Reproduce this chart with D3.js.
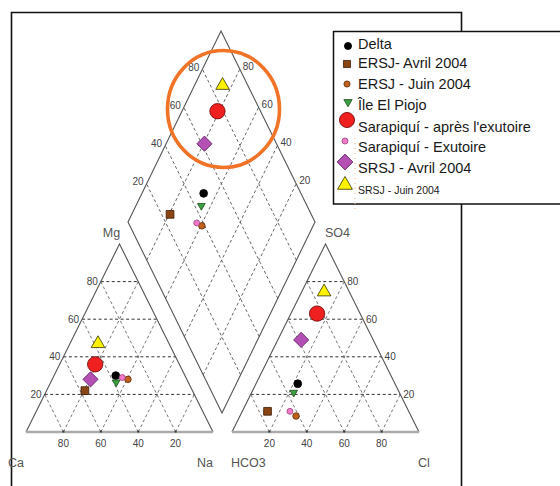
<!DOCTYPE html>
<html>
<head>
<meta charset="utf-8">
<script src="https://cdn.jsdelivr.net/npm/d3@7"></script>
<style>
  html, body { margin: 0; padding: 0; background: #fff; }
  svg { display: block; }
  .tick { font-family: "Liberation Sans Narrow", "Liberation Sans", Arial, sans-serif; font-size: 10px; fill: #444; }
  .axisname { font-family: "Liberation Sans Narrow", "Liberation Sans", Arial, sans-serif; font-size: 12.5px; fill: #555; }
  .leg { font-family: "Liberation Sans", Arial, sans-serif; font-size: 14.5px; fill: #1a1a1a; }
  .legsmall { font-family: "Liberation Sans Narrow", "Liberation Sans", Arial, sans-serif; font-size: 10.5px; fill: #1a1a1a; }
</style>
</head>
<body>
<svg id="chart" width="560" height="486"></svg>
<script>
// Sample names (legend order)
const samples = [
  "Delta",
  "ERSJ- Avril 2004",
  "ERSJ - Juin 2004",
  "Île El Piojo",
  "Sarapiquí - après l'exutoire",
  "Sarapiquí - Exutoire",
  "SRSJ - Avril 2004",
  "SRSJ - Juin 2004"
];

// Cations, % meq
const ca = [37, 57.5, 31.5, 38.5, 45, 34, 51.5, 38];
const mg = [30, 22, 28, 26.5, 36, 29, 28, 47];
const na = [33, 20.5, 40.5, 35, 19, 37, 20.5, 15];

// Anions, % meq
const hco3 = [52, 75.5, 61.5, 56.5, 23, 63.5, 38.5, 13.5];
const so4  = [25.7, 11, 8.5, 21, 63, 11, 49, 74.5];
const cl   = [22.3, 13.5, 30, 22.5, 14, 25.5, 12.5, 12];

// Grid / tick values
const gridTicks = [20, 40, 60, 80];

// Marker styles per sample
const markers = [
  { shape: "circle",  fill: "#000000", stroke: "#000000", size: 48,  legSize: 40 },
  { shape: "square",  fill: "#8a4513", stroke: "#3a1a05", size: 60,  legSize: 50 },
  { shape: "circle",  fill: "#c0601c", stroke: "#5a2a08", size: 34,  legSize: 30 },
  { shape: "tridown", fill: "#3aa040", stroke: "#1f4d1f", size: 26,  legSize: 30 },
  { shape: "circle",  fill: "#ee2020", stroke: "#6a0000", size: 185, legSize: 180 },
  { shape: "circle",  fill: "#f07ac8", stroke: "#a04080", size: 28,  legSize: 28 },
  { shape: "diamond", fill: "#b450b4", stroke: "#5a1f5a", size: 115, legSize: 125 },
  { shape: "triangle",fill: "#fff200", stroke: "#333300", size: 80,  legSize: 95 }
];

const svg = d3.select("#chart");

// ---- geometry ----
const W = 187, H = 188;
const baseY = 432;
const catX0 = 26, anX0 = 232;
const tx = d3.scaleLinear().domain([0, 100]).range([0, W]);
const ty = d3.scaleLinear().domain([0, 100]).range([baseY, baseY - H]);

function catPt(na_, mg_) { return [catX0 + tx(na_ + mg_ / 2), ty(mg_)]; }
function anPt(cl_, so4_) { return [anX0 + tx(cl_ + so4_ / 2), ty(so4_)]; }

// diamond: u = SO4+Cl, v = Ca+Mg, bottom vertex at (222, 413)
const dBx = 222, dBy = 413;
const du = d3.scaleLinear().domain([0, 100]).range([0, 93]);
const dv = d3.scaleLinear().domain([0, 100]).range([0, 94]);
const dh = d3.scaleLinear().domain([0, 100]).range([0, 191]);
function diaPt(u, v) { return [dBx + du(u) - dv(v), dBy - dh(u) - dh(v)]; }

const line = d3.line();
const gridStyle = sel => sel.attr("fill", "none").attr("stroke", "#666")
  .attr("stroke-width", 1).attr("stroke-dasharray", "3,2.5");

// ---- frame ----
svg.append("path")
  .attr("d", "M11.5,492 V12.5 H461.5 V492")
  .attr("fill", "none").attr("stroke", "#111").attr("stroke-width", 1.6);

const g = svg.append("g");

// ---- cation triangle ----
gridTicks.forEach(p => {
  g.append("path").attr("d", line([catPt(0, p), catPt(100 - p, p)])).call(gridStyle).attr("stroke", "#333");
  g.append("path").attr("d", line([catPt(p, 0), catPt(p, 100 - p)])).call(gridStyle).attr("stroke", "#777");
  g.append("path").attr("d", line([catPt(100 - p, 0), catPt(0, 100 - p)])).call(gridStyle).attr("stroke", "#777");
});
g.append("path").attr("d", line([catPt(0, 0), catPt(0, 100), catPt(100, 0)]))
  .attr("fill", "none").attr("stroke", "#555").attr("stroke-width", 1.1);
g.append("path").attr("d", line([catPt(0, 0), catPt(100, 0)]))
  .attr("stroke", "#aaa").attr("stroke-width", 2.4);

// ---- anion triangle ----
gridTicks.forEach(p => {
  g.append("path").attr("d", line([anPt(0, p), anPt(100 - p, p)])).call(gridStyle).attr("stroke", "#333");
  g.append("path").attr("d", line([anPt(p, 0), anPt(p, 100 - p)])).call(gridStyle).attr("stroke", "#777");
  g.append("path").attr("d", line([anPt(100 - p, 0), anPt(0, 100 - p)])).call(gridStyle).attr("stroke", "#777");
});
g.append("path").attr("d", line([anPt(0, 0), anPt(0, 100), anPt(100, 0)]))
  .attr("fill", "none").attr("stroke", "#555").attr("stroke-width", 1.1);
g.append("path").attr("d", line([anPt(0, 0), anPt(100, 0)]))
  .attr("stroke", "#aaa").attr("stroke-width", 2.4);

// base tick dots
gridTicks.forEach(p => {
  [catPt(p, 0), anPt(p, 0)].forEach(([x, y]) =>
    g.append("rect").attr("x", x - 1).attr("y", y - 1.5).attr("width", 2).attr("height", 2).attr("fill", "#333"));
});

// ---- diamond ----
gridTicks.forEach(p => {
  g.append("path").attr("d", line([diaPt(p, 0), diaPt(p, 100)])).call(gridStyle);
  g.append("path").attr("d", line([diaPt(0, p), diaPt(100, p)])).call(gridStyle);
});
g.append("path").attr("d", line([diaPt(0, 0), diaPt(100, 0), diaPt(100, 100), diaPt(0, 100)]) + "Z")
  .attr("fill", "none").attr("stroke", "#555").attr("stroke-width", 1.1);

// ---- tick labels ----
gridTicks.forEach(p => {
  // Mg along left edge of cation triangle
  let [x, y] = catPt(0, p);
  g.append("text").attr("class", "tick").attr("x", x - 3).attr("y", y).attr("dy", "0.35em")
    .attr("text-anchor", "end").text(p);
  // Ca along base (Ca = 100 - Na)
  [x, y] = catPt(100 - p, 0);
  g.append("text").attr("class", "tick").attr("x", x).attr("y", y + 15)
    .attr("text-anchor", "middle").text(p);
  // SO4 along right edge of anion triangle
  [x, y] = anPt(100 - p, p);
  g.append("text").attr("class", "tick").attr("x", x + 3).attr("y", y).attr("dy", "0.35em")
    .attr("text-anchor", "start").text(p);
  // Cl along base
  [x, y] = anPt(p, 0);
  g.append("text").attr("class", "tick").attr("x", x).attr("y", y + 15)
    .attr("text-anchor", "middle").text(p);
  // diamond upper-left edge (SO4+Cl)
  [x, y] = diaPt(p, 100);
  g.append("text").attr("class", "tick").attr("x", x - 3).attr("y", y - 2).attr("dy", "0.35em")
    .attr("text-anchor", "end").text(p);
  // diamond upper-right edge (Ca+Mg)
  [x, y] = diaPt(100, p);
  g.append("text").attr("class", "tick").attr("x", x + 3).attr("y", y - 3).attr("dy", "0.35em")
    .attr("text-anchor", "start").text(p);
});

// ---- axis names ----
const names = [
  { t: "Mg",   x: catPt(0, 100)[0] - 8, y: 237, a: "middle" },
  { t: "SO4",  x: anPt(0, 100)[0] + 12, y: 237, a: "middle" },
  { t: "Ca",   x: 8,   y: 467, a: "start" },
  { t: "Na",   x: 205, y: 467, a: "middle" },
  { t: "HCO3", x: 231, y: 467, a: "start" },
  { t: "Cl",   x: 424, y: 467, a: "middle" }
];
names.forEach(n => g.append("text").attr("class", "axisname")
  .attr("x", n.x).attr("y", n.y).attr("text-anchor", n.a).text(n.t));

// ---- markers ----
function symbolPath(shape, size) {
  if (shape === "circle") return d3.symbol(d3.symbolCircle, size)();
  if (shape === "square") return d3.symbol(d3.symbolSquare, size)();
  if (shape === "triangle") return d3.symbol(d3.symbolTriangle, size)();
  if (shape === "tridown") return d3.symbol(d3.symbolTriangle, size)();
  if (shape === "diamond") return d3.symbol(d3.symbolSquare, size)();
}
function symbolRot(shape) {
  if (shape === "tridown") return 180;
  if (shape === "diamond") return 45;
  return 0;
}
function drawMarker(sel, i, x, y, size) {
  const m = markers[i];
  sel.append("path")
    .attr("d", symbolPath(m.shape, size))
    .attr("transform", `translate(${x},${y}) rotate(${symbolRot(m.shape)})`)
    .attr("fill", m.fill).attr("stroke", m.stroke).attr("stroke-width", 0.8);
}

const pts = svg.append("g");
samples.forEach((s, i) => {
  const [cx, cy] = catPt(na[i], mg[i]);
  drawMarker(pts, i, cx, cy, markers[i].size);
  const [ax, ay] = anPt(cl[i], so4[i]);
  drawMarker(pts, i, ax, ay, markers[i].size);
  const [dx, dy] = diaPt(so4[i] + cl[i], ca[i] + mg[i]);
  drawMarker(pts, i, dx, dy, markers[i].size);
});

// ---- highlight ring ----
svg.append("ellipse")
  .attr("cx", 223.5).attr("cy", 109).attr("rx", 56).attr("ry", 58.5)
  .attr("fill", "none").attr("stroke", "#f07328").attr("stroke-width", 3.6);

// ---- legend ----
const leg = svg.append("g");
leg.append("rect").attr("x", 333.5).attr("y", 31.5).attr("width", 240).attr("height", 172.5)
  .attr("fill", "#fff").attr("stroke", "#111").attr("stroke-width", 1.5);
leg.append("line").attr("x1", 355).attr("x2", 355).attr("y1", 138).attr("y2", 212)
  .attr("stroke", "#f5b27a").attr("stroke-width", 1).attr("stroke-dasharray", "1,4");

const legSymY = [46, 64, 84, 102, 120, 141, 162, 185];
const legTxtY = [44, 63, 84, 105, 127, 147, 168, 190];
const legSymX = [348, 347, 347, 348, 347, 345, 345, 345];
samples.forEach((s, i) => {
  drawMarker(leg, i, legSymX[i], legSymY[i], markers[i].legSize);
  leg.append("text").attr("class", i === samples.length - 1 ? "legsmall" : "leg")
    .attr("x", 358).attr("y", legTxtY[i]).attr("dy", "0.35em").text(s);
});
</script>
</body>
</html>
